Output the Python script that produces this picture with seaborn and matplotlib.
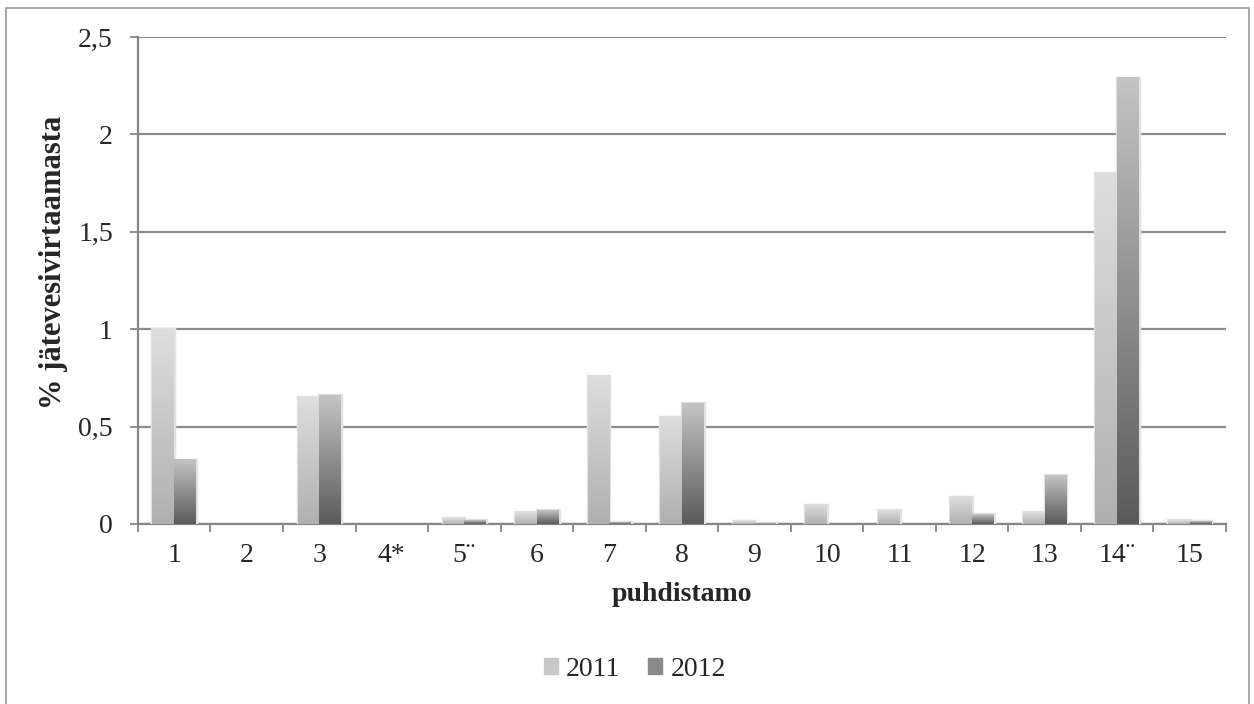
import pandas as pd
import numpy as np
import seaborn as sns
import matplotlib.pyplot as plt
from matplotlib.patches import Rectangle
from matplotlib.lines import Line2D
from matplotlib.colors import LinearSegmentedColormap

plants = ['1', '2', '3', '4*', '5\u00a8', '6', '7', '8', '9', '10', '11', '12', '13', '14\u00a8', '15']
v2011 = [1.00, 0.0, 0.65, 0.0, 0.03, 0.06, 0.76, 0.55, 0.015, 0.10, 0.07, 0.14, 0.06, 1.80, 0.02]
v2012 = [0.33, 0.0, 0.66, 0.0, 0.02, 0.07, 0.01, 0.62, 0.005, 0.0, 0.0, 0.05, 0.25, 2.29, 0.015]
years = ['2011', '2012']
yticks = [0, 0.5, 1, 1.5, 2, 2.5]
ylabels = ['0', '0,5', '1', '1,5', '2', '2,5']

df = pd.DataFrame({'puhdistamo': plants * 2,
                   'arvo': v2011 + v2012,
                   'vuosi': [years[0]] * len(plants) + [years[1]] * len(plants)})

sns.set_style('white')
plt.rcParams['font.family'] = ['Liberation Serif', 'DejaVu Serif']
FS = 20

fig = plt.figure(figsize=(12.54, 7.04), dpi=100)
ax = fig.add_axes([0.110, 0.2557, 0.8676, 0.6918])

sns.barplot(data=df, x='puhdistamo', y='arvo', hue='vuosi', order=plants,
            palette=['#c8c8c8', '#8a8a8a'], width=0.6, ax=ax, zorder=3, legend=False)

# gradient fill for each bar, like the spreadsheet original
cmaps = {'2011': LinearSegmentedColormap.from_list('a', ['#b0b0b0', '#dedede']),
         '2012': LinearSegmentedColormap.from_list('b', ['#5a5a5a', '#c4c4c4'])}
grad = np.linspace(0, 1, 256).reshape(-1, 1)
for cont, yr in zip(ax.containers, years):
    for p in cont.patches:
        h = p.get_height()
        if h <= 0:
            p.set_visible(False)
            continue
        x0 = p.get_x()
        w = p.get_width()
        ax.imshow(grad, extent=[x0, x0 + w, 0, h], origin='lower', aspect='auto',
                  cmap=cmaps[yr], zorder=4)
        p.set_edgecolor('#e2e2e2')
        p.set_linewidth(2.5)

ax.set_xlim(-0.5, len(plants) - 0.5)
ax.set_ylim(0, 2.5)
ax.set_yticks(yticks)
ax.set_yticklabels(ylabels, fontsize=FS)
ax.set_xticks(range(len(plants)))
ax.set_xticklabels(plants, fontsize=FS)
ax.set_xticks(np.arange(-0.5, len(plants)), minor=True)
ax.tick_params(axis='x', which='major', length=0, pad=14)
ax.tick_params(axis='x', which='minor', length=6, color='#868686', width=1.3, direction='out', bottom=True)
ax.tick_params(axis='y', length=6, color='#868686', width=1.3, direction='out', left=True, pad=12)
ax.yaxis.grid(True, color='#8c8c8c', linewidth=1.6, zorder=0)
ax.set_axisbelow(True)
for s in ['top', 'right']:
    ax.spines[s].set_visible(False)
for s in ['left', 'bottom']:
    ax.spines[s].set_color('#868686')
    ax.spines[s].set_linewidth(1.6)

ax.set_xlabel('puhdistamo', fontsize=FS, fontweight='bold', labelpad=10)
ax.set_ylabel('% jätevesivirtaamasta', fontsize=22, fontweight='bold')
ax.yaxis.set_label_coords(-0.064, 0.538)

handles = [Rectangle((0, 0), 1, 1, facecolor=c, edgecolor=c) for c in ['#c8c8c8', '#8a8a8a']]
fig.legend(handles, years, loc='center', bbox_to_anchor=(635 / 1254, 1 - 669 / 704), ncol=2,
           frameon=False, fontsize=FS, handlelength=0.5, handleheight=0.5, handletextpad=0.3,
           columnspacing=1.0)

# chart-area frame (bottom edge falls outside the picture)
fig.add_artist(Line2D([0.005, 0.005, 0.996, 0.996], [0.0, 0.989, 0.989, 0.0],
                      transform=fig.transFigure, color='#9a9a9a', linewidth=1.2))

plt.savefig('out.png', dpi=100)
